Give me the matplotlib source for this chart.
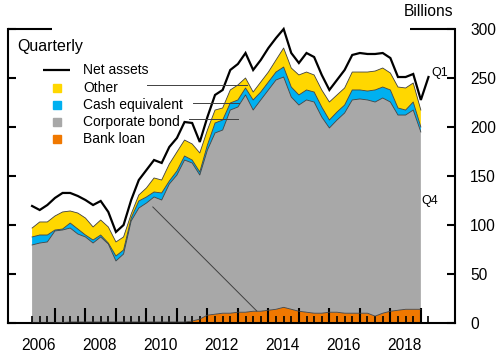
import numpy as np
import pandas as pd
import matplotlib
matplotlib.use('Agg')
import matplotlib.pyplot as plt
from matplotlib.transforms import blended_transform_factory

plt.rcParams['font.family'] = ['Liberation Sans', 'DejaVu Sans']

# ---------------- data (billions of dollars, quarterly) ----------------
quarters = pd.period_range('2006Q1', '2018Q4', freq='Q')
net_quarters = pd.period_range('2006Q1', '2019Q1', freq='Q')

bank_loan = [0, 0, 0, 0, 0.5, 1, 1, 1, 1, 1,
             1, 1, 1, 1, 1, 1, 1, 1, 1, 1,
             1, 2, 4, 8, 9, 10, 10, 11, 11, 12,
             12, 13, 14, 16, 14, 12, 11, 10, 10, 11,
             11, 10, 10, 10, 10, 7, 10, 12, 13, 14,
             14, 14]
corporate_bond = [79.6, 81.6, 82.7, 93.9, 94.4, 95.9, 89.8, 86.8, 80.6, 86.8,
                  79.6, 62.3, 69.4, 103.1, 116.3, 121.4, 127.6, 124.5, 140.8, 150.0,
                  165.3, 161.3, 147.0, 168.5, 184.9, 186.9, 207.3, 209.4, 221.7, 205.3,
                  215.6, 224.8, 234.0, 235.0, 216.6, 210.4, 216.6, 215.5, 200.2, 188.0,
                  196.1, 204.3, 217.6, 218.6, 217.6, 218.5, 219.6, 213.5, 199.2, 198.2,
                  203.3, 180.9]
cash_equivalent = [8.2, 8.2, 7.1, 1.0, 1.0, 5.1, 5.1, 2.0, 3.1, 2.0,
                   1.0, 5.1, 4.1, 3.0, 7.2, 6.2, 5.1, 7.2, 3.1, 4.1,
                   4.1, 3.0, 3.1, 5.1, 10.2, 10.2, 7.2, 7.2, 7.1, 10.3,
                   8.1, 8.1, 8.1, 10.2, 10.2, 10.3, 10.2, 10.2, 10.2, 8.1,
                   8.2, 8.1, 10.2, 9.2, 9.1, 12.3, 11.2, 12.3, 7.2, 5.1,
                   8.2, 5.1]
other = [9.1, 13.3, 13.3, 14.3, 17.4, 12.3, 16.3, 17.3, 13.3, 15.3,
         16.4, 14.3, 13.3, 4.1, 6.1, 9.2, 14.3, 13.2, 17.3, 19.4,
         16.3, 16.4, 19.4, 15.3, 13.2, 12.3, 13.3, 15.3, 10.2, 8.1,
         10.2, 10.2, 12.3, 19.4, 19.4, 20.4, 18.3, 17.4, 17.4, 18.4,
         17.4, 17.4, 18.3, 18.3, 19.4, 19.3, 19.4, 17.3, 21.4, 22.5,
         19.4, 17.3]
net_assets = [119.4, 115.3, 120.4, 127.6, 132.7, 132.7, 129.6, 125.5, 120.4, 124.5,
              113.3, 92.9, 100.0, 125.5, 145.9, 156.1, 166.3, 163.3, 179.6, 188.8,
              205.1, 204.1, 184.7, 210.2, 232.7, 237.8, 258.2, 264.3, 275.5, 258.2,
              268.4, 280.6, 290.8, 300.0, 275.5, 265.3, 275.5, 271.4, 253.1, 237.8,
              248.0, 258.2, 273.5, 275.5, 274.5, 274.5, 275.5, 270.4, 251.0, 251.0,
              254.1, 227.6, 251.0]

year_labels = ['2006', '2008', '2010', '2012', '2014', '2016', '2018']
legend_labels = ['Net assets', 'Other', 'Cash equivalent', 'Corporate bond', 'Bank loan']

c_bank = '#F07800'
c_corp = '#A8A8A8'
c_cash = '#00B0F0'
c_other = '#FFD700'
edge = '#404040'

x = np.array([p.year + p.quarter / 4 for p in quarters])
xn = np.array([p.year + p.quarter / 4 for p in net_quarters])

fig = plt.figure(figsize=(4.98, 3.58), dpi=100)
ax = fig.add_axes([8 / 498, 35 / 358, 447 / 498, 294 / 358])

ax.stackplot(x, bank_loan, corporate_bond, cash_equivalent, other,
             colors=[c_bank, c_corp, c_cash, c_other], linewidth=0)
cum = np.cumsum(np.vstack([bank_loan, corporate_bond, cash_equivalent, other]), axis=0)
for row in cum:
    ax.plot(x, row, color=edge, lw=0.6, zorder=3)

ax.plot(xn, net_assets, color='black', lw=1.6, zorder=5, clip_on=False,
        solid_joinstyle='miter')

ax.set_xlim(2005.46, 2020.12)
ax.set_ylim(0, 300)

# spines
for s in ['left', 'right', 'bottom']:
    ax.spines[s].set_linewidth(1.5)
ax.spines['top'].set_visible(False)
ax.plot([0, 44 / 447], [1, 1], transform=ax.transAxes, color='black', lw=1.5, clip_on=False,
        solid_capstyle='butt')
ax.plot([402 / 447, 1], [1, 1], transform=ax.transAxes, color='black', lw=1.5, clip_on=False,
        solid_capstyle='butt')

# y ticks
ax.set_yticks([0, 50, 100, 150, 200, 250, 300])
ax.tick_params(axis='y', which='major', left=True, right=True, labelleft=False,
               labelright=True, direction='in', length=5.5, width=1.5, pad=11,
               labelsize=11.2)

# x ticks
ax.set_xticks(np.arange(2007, 2020))
minor = [p.year + p.quarter / 4 for p in net_quarters if p.quarter != 4]
ax.set_xticks(minor, minor=True)
ax.tick_params(axis='x', which='major', direction='in', length=11, width=1.5,
               labelbottom=False)
ax.tick_params(axis='x', which='minor', direction='in', length=5, width=1.2)

trans = blended_transform_factory(ax.transData, ax.transAxes)
for lab in year_labels:
    ax.text(int(lab) + 0.47, -0.075, lab, transform=trans, ha='center', va='center',
            fontsize=11.2)

fig.text(428.5 / 498, 1 - 12 / 358, 'Billions', ha='center', va='center', fontsize=11.2)

# legend (manual)
def ax_xy(px, py):
    return (px - 8) / 447, (323 - py) / 294

tx, ty = ax_xy(17, 46)
ax.text(tx, ty, 'Quarterly', transform=ax.transAxes, ha='left', va='center', fontsize=11.5)

x0, yl = ax_xy(43, 70)
x1, _ = ax_xy(70, 70)
ax.plot([x0, x1], [yl, yl], transform=ax.transAxes, color='black', lw=1.6,
        solid_capstyle='butt')
tx0, _ = ax_xy(83, 0)
ax.text(tx0, yl, legend_labels[0], transform=ax.transAxes, ha='left', va='center', fontsize=10)
mx, _ = ax_xy(57, 0)
for lab, col, py in zip(legend_labels[1:], [c_other, c_cash, c_corp, c_bank], [88, 105, 122, 139]):
    _, my = ax_xy(0, py)
    ax.plot([mx], [my], marker='s', markersize=5.5, color=col, transform=ax.transAxes,
            linestyle='none')
    ax.text(tx0, my, lab, transform=ax.transAxes, ha='left', va='center', fontsize=10)

# pointer lines (data coords)
ax.plot([2010.02, 2013.30], [242.9, 242.9], color=edge, lw=0.7, zorder=6)
ax.plot([2011.53, 2013.03], [224.0, 224.0], color=edge, lw=0.7, zorder=6)
ax.plot([2011.40, 2013.00], [208.0, 208.0], color=edge, lw=0.7, zorder=6)
ax.plot([2010.21, 2013.62], [118.4, 12.2], color=edge, lw=0.7, zorder=6)

ax.text(2019.33, 255, 'Q1', fontsize=9, ha='left', va='center')
ax.text(2019.03, 124.5, 'Q4', fontsize=9, ha='left', va='center')

fig.savefig('out.png', dpi=100)
